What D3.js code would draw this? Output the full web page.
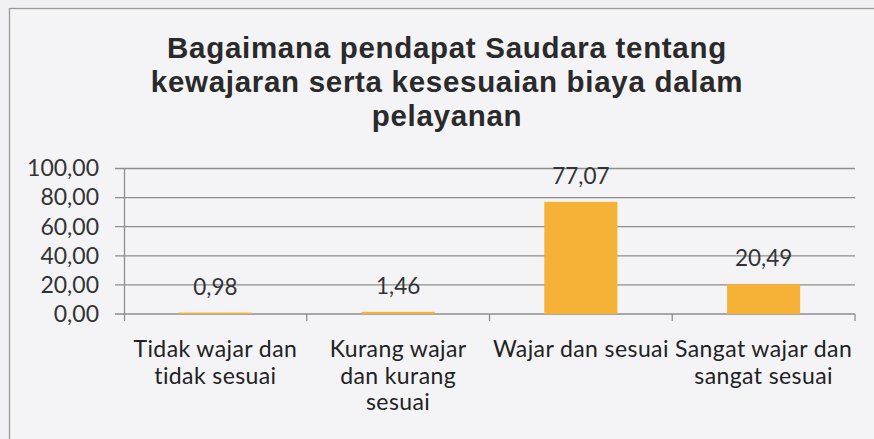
<!DOCTYPE html>
<html>
<head>
<meta charset="utf-8">
<script src="https://cdn.jsdelivr.net/npm/d3@7"></script>
<style>
  html, body { margin: 0; padding: 0; background: #f1f1f5; }
  svg { display: block; }
</style>
</head>
<body>
<div id="chart"></div>
<script>
// chart data
var titleLines = ['Bagaimana pendapat Saudara tentang', 'kewajaran serta kesesuaian biaya dalam', 'pelayanan'];
var categories = ['Tidak wajar dan tidak sesuai', 'Kurang wajar dan kurang sesuai', 'Wajar dan sesuai', 'Sangat wajar dan sangat sesuai'];
var categoryLines = [
    ['Tidak wajar dan', 'tidak sesuai'],
    ['Kurang wajar', 'dan kurang', 'sesuai'],
    ['Wajar dan sesuai'],
    ['Sangat wajar dan', 'sangat sesuai']
];
var values = [0.98, 1.46, 77.07, 20.49];
var yTicks = [0, 20, 40, 60, 80, 100];

var width = 874, height = 439;
var margin = { top: 168.5, right: 19, bottom: 125, left: 124 };
var plotW = width - margin.left - margin.right;
var plotH = height - margin.top - margin.bottom;

var labelFont = 'Lato, Carlito, sans-serif';
var axisColor = '#8e8e8e';

// Indonesian number format: comma decimal
var idLocale = d3.formatLocale({ decimal: ',', thousands: '.', grouping: [3], currency: ['Rp', ''] });
var fmt = idLocale.format('.2f');

var svg = d3.select('#chart')
    .append('svg')
    .attr('width', width)
    .attr('height', height);

// chart frame
svg.append('rect')
    .attr('x', 9.5)
    .attr('y', 8.5)
    .attr('width', width + 20)
    .attr('height', height + 20)
    .attr('fill', '#f4f4f7')
    .attr('stroke', '#999')
    .attr('stroke-width', 1.3);

// --- Title ---
svg.append('g')
    .selectAll('text')
    .data(titleLines)
    .join('text')
    .attr('x', 447)
    .attr('y', function (d, i) { return 57.5 + i * 34; })
    .attr('text-anchor', 'middle')
    .attr('font-family', 'Liberation Sans, Arial, sans-serif')
    .attr('font-weight', 'bold')
    .attr('font-size', '29.5px')
    .attr('letter-spacing', '0.7px')
    .attr('fill', '#2a2a2a')
    .text(function (d) { return d; });

var g = svg.append('g').attr('transform', 'translate(' + margin.left + ',' + margin.top + ')');

// --- Scales ---
var x = d3.scaleBand().domain(categories).range([0, plotW]).paddingInner(0.6).paddingOuter(0.3);
var xBand = d3.scaleBand().domain(categories).range([0, plotW]);
var y = d3.scaleLinear().domain([0, 100]).range([plotH, 0]);

// gridlines
g.append('g')
    .selectAll('line')
    .data(yTicks)
    .join('line')
    .attr('x1', -9)
    .attr('x2', plotW)
    .attr('y1', function (d) { return y(d); })
    .attr('y2', function (d) { return y(d); })
    .attr('stroke', axisColor)
    .attr('stroke-width', 1.3);

// y axis
var yAxis = g.append('g')
    .call(d3.axisLeft(y).tickValues(yTicks).tickFormat(fmt).tickSize(0).tickPadding(25));
yAxis.select('.domain').remove();
yAxis.selectAll('text')
    .attr('font-family', labelFont)
    .attr('font-size', '23px')
    .attr('fill', '#333');

g.append('line')
    .attr('x1', 0.5).attr('x2', 0.5)
    .attr('y1', 0).attr('y2', plotH + 7)
    .attr('stroke', axisColor)
    .attr('stroke-width', 1.3);

// x category ticks
g.append('g')
    .selectAll('line')
    .data(categories)
    .join('line')
    .attr('x1', function (d) { return xBand(d) + xBand.step(); })
    .attr('x2', function (d) { return xBand(d) + xBand.step(); })
    .attr('y1', plotH)
    .attr('y2', plotH + 7)
    .attr('stroke', axisColor)
    .attr('stroke-width', 1.3);

// --- Bars ---
g.append('g')
    .selectAll('rect')
    .data(values)
    .join('rect')
    .attr('x', function (d, i) { return x(categories[i]); })
    .attr('width', x.bandwidth())
    .attr('y', function (d) { return y(d); })
    .attr('height', function (d) { return plotH - y(d); })
    .attr('fill', '#f5b237');

// data labels
g.append('g')
    .selectAll('text')
    .data(values)
    .join('text')
    .attr('x', function (d, i) { return x(categories[i]) + x.bandwidth() / 2; })
    .attr('y', function (d) { return y(d) - 18; })
    .attr('text-anchor', 'middle')
    .attr('font-family', labelFont)
    .attr('font-size', '22.5px')
    .attr('fill', '#333')
    .text(function (d) { return fmt(d); });

// category labels
var catG = g.append('g')
    .selectAll('text')
    .data(categoryLines)
    .join('text')
    .attr('text-anchor', 'middle')
    .attr('font-family', labelFont)
    .attr('font-size', '23px')
    .attr('letter-spacing', '0.4px')
    .attr('fill', '#222')
    .attr('transform', function (d, i) {
        return 'translate(' + (xBand(categories[i]) + xBand.bandwidth() / 2) + ',' + (357 - margin.top) + ')';
    });
catG.selectAll('tspan')
    .data(function (d) { return d; })
    .join('tspan')
    .attr('x', 0)
    .attr('dy', function (d, i) { return i === 0 ? 0 : 26.5; })
    .text(function (d) { return d; });
</script>
</body>
</html>
